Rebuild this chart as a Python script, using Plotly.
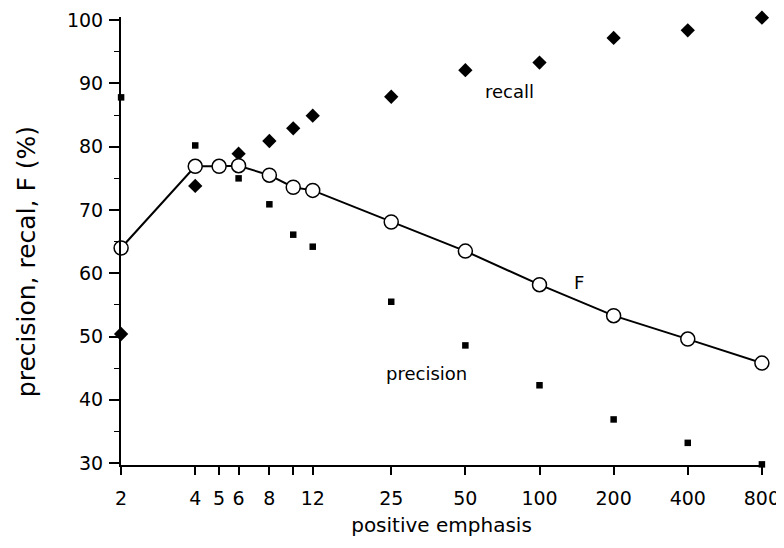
import math
import plotly.graph_objects as go

emphasis = [2, 4, 5, 6, 8, 10, 12, 25, 50, 100, 200, 400, 800]
f_values = [64.0, 76.9, 76.9, 77.0, 75.5, 73.6, 73.1, 68.1, 63.5, 58.2, 53.3, 49.6, 45.8]

recall_x = [2, 4, 6, 8, 10, 12, 25, 50, 100, 200, 400, 800]
recall_values = [50.4, 73.8, 78.9, 80.9, 82.9, 84.9, 87.9, 92.1, 93.3, 97.2, 98.4, 100.4]

precision_x = [2, 4, 6, 8, 10, 12, 25, 50, 100, 200, 400, 800]
precision_values = [87.8, 80.2, 75.0, 70.9, 66.1, 64.2, 55.5, 48.6, 42.3, 36.9, 33.2, 29.8]

x_ticks = [2, 4, 5, 6, 8, 10, 12, 25, 50, 100, 200, 400, 800]
x_tick_labels = ["2", "4", "5", "6", "8", "", "12", "25", "50", "100", "200", "400", "800"]
y_ticks = [30, 40, 50, 60, 70, 80, 90, 100]
y_minor_ticks = [35, 45, 55, 65, 75, 85, 95]

FONT = "DejaVu Sans, Arial, sans-serif"

fig = go.Figure()
fig.add_trace(go.Scatter(
    x=recall_x, y=recall_values, mode="markers",
    marker=dict(symbol="diamond", size=11, color="black"),
    cliponaxis=False, showlegend=False))
fig.add_trace(go.Scatter(
    x=precision_x, y=precision_values, mode="markers",
    marker=dict(symbol="square", size=6.5, color="black"),
    cliponaxis=False, showlegend=False))
fig.add_trace(go.Scatter(
    x=emphasis, y=f_values, mode="lines+markers",
    line=dict(color="black", width=2),
    marker=dict(symbol="circle", size=14, color="white", line=dict(color="black", width=1.5)),
    cliponaxis=False, showlegend=False))

label_font = dict(family=FONT, size=18, color="black")
fig.add_annotation(x=math.log10(75.7), y=88.8, xref="x", yref="y", text="recall",
                   showarrow=False, font=label_font)
fig.add_annotation(x=math.log10(144), y=58.6, xref="x", yref="y", text="F",
                   showarrow=False, font=label_font)
fig.add_annotation(x=math.log10(34.9), y=44.2, xref="x", yref="y", text="precision",
                   showarrow=False, font=label_font)

# y axis title placed as rotated text
fig.add_annotation(x=-0.148, y=0.453, xref="paper", yref="paper",
                   text="precision, recal, F (%)", textangle=-90, showarrow=False,
                   xanchor="center", yanchor="middle",
                   font=dict(family=FONT, size=25, color="black"))

fig.update_layout(
    width=784, height=548,
    margin=dict(l=113, r=30, t=9, b=91, autoexpand=False),
    paper_bgcolor="white", plot_bgcolor="white",
    font=dict(family=FONT, color="black"),
    xaxis=dict(
        type="log", range=[math.log10(2) - 0.0004, math.log10(800) + 0.0004],
        automargin=False,
        tickvals=x_ticks, ticktext=x_tick_labels,
        ticks="outside", ticklen=8, tickwidth=1.5, tickcolor="black",
        ticklabelstandoff=7,
        showline=True, linecolor="black", linewidth=2,
        showgrid=False, zeroline=False,
        tickfont=dict(family=FONT, size=19, color="black"),
        title=dict(text="positive emphasis", font=dict(family=FONT, size=20, color="black"), standoff=10),
    ),
    yaxis=dict(
        range=[29.7, 100.5],
        automargin=False,
        tickvals=y_ticks,
        ticks="outside", ticklen=10, tickwidth=1.5, tickcolor="black",
        ticklabelstandoff=2,
        minor=dict(tickvals=y_minor_ticks, ticks="outside", ticklen=5, tickwidth=1, tickcolor="black"),
        showline=True, linecolor="black", linewidth=2,
        showgrid=False, zeroline=False,
        tickfont=dict(family=FONT, size=19, color="black"),
    ),
)

fig.write_html("out.html")
